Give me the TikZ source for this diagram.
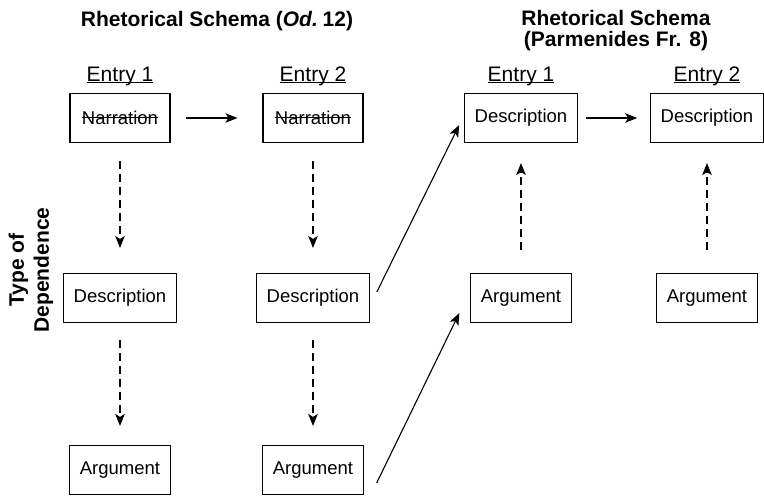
\documentclass[tikz,border=0pt]{standalone}
\usepackage{fontspec}
\setmainfont{Liberation Sans}
\usetikzlibrary{arrows.meta}
\newcommand\myul[1]{\setbox0\hbox{#1}\rlap{\rule[-2.2pt]{\wd0}{1pt}}\box0}
\newcommand\mystrike[1]{\setbox0\hbox{#1}\rlap{\rule[0.36em]{\wd0}{0.9pt}}\box0}
\tikzset{
  box/.style={draw, line width=1.1pt, minimum width=100pt, minimum height=49pt, inner xsep=10pt, font=\fontsize{18.5}{22}\selectfont},
  entry/.style={anchor=base, inner sep=0pt, font=\fontsize{21}{24}\selectfont},
  title/.style={anchor=base, inner sep=0pt, font=\fontsize{21}{24}\selectfont\bfseries},
  arr/.style={line width=1.1pt, -{Stealth[length=12pt,width=9.5pt,inset=3pt]}},
  darr/.style={arr, dash pattern=on 8pt off 5pt}
}
\begin{document}
\begin{tikzpicture}[x=1pt,y=-1pt]
\useasboundingbox (0,0) rectangle (764,496);
% titles
\node[title] (t1) at (217,26) {Rhetorical Schema (\textit{Od.}\kern-1pt\ 12)};
\node[title] (t2a) at (616,25) {Rhetorical Schema};
\node[title] (t2b) at (616,46) {(Parmenides Fr. 8)};
\node[rotate=90, align=center, inner sep=0pt, font=\fontsize{21}{25}\selectfont\bfseries] (tod) at (31,270) {Type of\\Dependence};
% entry labels
\node[entry] (e1) at (120,81) {\myul{Entry 1}};
\node[entry] (e2) at (313,81) {\myul{Entry 2}};
\node[entry] (e3) at (521,81) {\myul{Entry 1}};
\node[entry] (e4) at (707,81) {\myul{Entry 2}};
% left schema
\node[box] (n1) at (120,118) {\mystrike{Narration}};
\node[box] (n2) at (313,118) {\mystrike{Narration}};
\node[box] (d1) at (120,298) {Description};
\node[box] (d2) at (313,298) {Description};
\node[box] (a1) at (120,470) {Argument};
\node[box] (a2) at (313,470) {Argument};
% right schema
\node[box] (rd1) at (521,118) {Description};
\node[box] (rd2) at (707,118) {Description};
\node[box] (ra1) at (521,298) {Argument};
\node[box] (ra2) at (707,298) {Argument};
% connectors
\draw[arr] ([xshift=15pt]n1.east) -- ([xshift=-25pt]n2.west);
\draw[arr] ([xshift=8pt]rd1.east) -- ([xshift=-13pt]rd2.west);
\draw[darr] ([yshift=-18pt]n1.south) -- ([yshift=25pt]d1.north);
\draw[darr] ([yshift=-18pt]n2.south) -- ([yshift=25pt]d2.north);
\draw[darr] ([yshift=-17pt]d1.south) -- ([yshift=19pt]a1.north);
\draw[darr] ([yshift=-17pt]d2.south) -- ([yshift=19pt]a2.north);
\draw[darr] ([yshift=23pt]ra1.north) -- ([yshift=-20pt]rd1.south);
\draw[darr] ([yshift=23pt]ra2.north) -- ([yshift=-20pt]rd2.south);
\draw[arr] ([shift={(7pt,6pt)}]d2.east) -- ([shift={(-5pt,-7pt)}]rd1.west);
\draw[arr] ([shift={(13pt,-13pt)}]a2.east) -- ([shift={(-11pt,-15pt)}]ra1.west);
\end{tikzpicture}
\end{document}
